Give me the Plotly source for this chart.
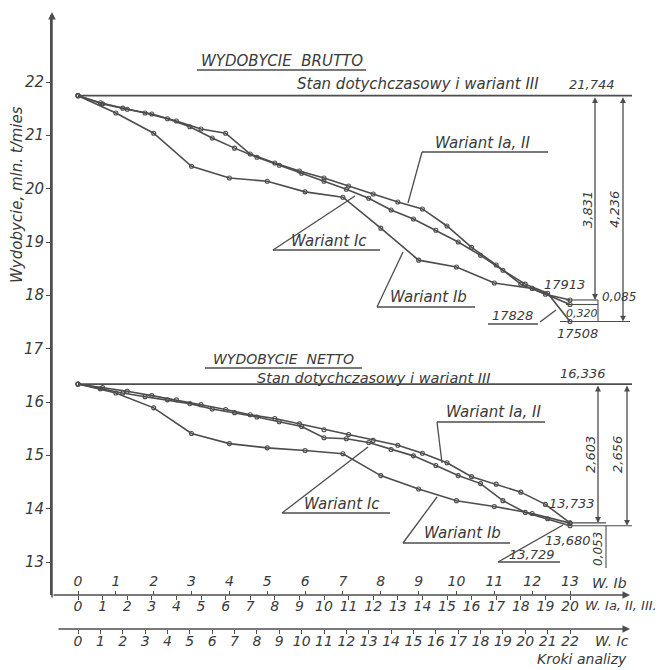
import plotly.graph_objects as go

# ---------------- data ----------------
steps_Ia = list(range(21))   # W. Ia, II, III
steps_Ib = list(range(14))   # W. Ib
steps_Ic = list(range(23))   # W. Ic

brutto_Ia = [21.744, 21.59, 21.49, 21.40, 21.27, 21.12, 21.04, 20.65, 20.48, 20.33, 20.20,
             20.05, 19.90, 19.75, 19.62, 19.30, 18.90, 18.57, 18.21, 18.02, 17.913]
brutto_Ib = [21.744, 21.42, 21.04, 20.42, 20.20, 20.14, 19.94, 19.84, 19.26, 18.66, 18.53,
             18.23, 18.13, 17.828]
brutto_Ic = [21.744, 21.61, 21.51, 21.42, 21.31, 21.16, 20.95, 20.76, 20.59, 20.44, 20.29,
             20.14, 19.99, 19.82, 19.60, 19.43, 19.22, 19.00, 18.75, 18.47, 18.21, 18.04, 17.508]

netto_Ia = [16.336, 16.27, 16.20, 16.12, 16.04, 15.95, 15.86, 15.76, 15.69, 15.59, 15.48,
            15.39, 15.28, 15.19, 15.04, 14.86, 14.60, 14.46, 14.31, 14.08, 13.733]
netto_Ib = [16.336, 16.17, 15.89, 15.41, 15.22, 15.14, 15.09, 15.03, 14.62, 14.37, 14.15,
            14.04, 13.91, 13.729]
netto_Ic = [16.336, 16.25, 16.17, 16.10, 16.04, 15.97, 15.87, 15.80, 15.72, 15.63, 15.54,
            15.33, 15.31, 15.24, 15.11, 14.99, 14.81, 14.62, 14.47, 14.15, 13.93, 13.81, 13.680]

stan_brutto = 21.744
stan_netto = 16.336
y_ticks = list(range(13, 23))

# ---------------- geometry / style ----------------
OFF = 8                      # page body margin in the browser
W, H = 666 - OFF, 670 - OFF
FONT = "DejaVu Sans"
LC = "#4d4d4d"
TC = "#3a3a3a"

def PX(x):
    return (x - OFF) / W

def PY(y):
    return 1 - (y - OFF) / H

DOM_L, DOM_R, DOM_T, DOM_B = 52, 636, 15, 595
STEP0_PX, STEPN_PX = 78, 570
Y22_PX, YUNIT = 82, 480 / 9.0

def xrange_for(nlast):
    u = (STEPN_PX - STEP0_PX) / nlast
    return [(DOM_L - STEP0_PX) / u, (DOM_R - STEP0_PX) / u]

yr = [22 - (DOM_B - Y22_PX) / YUNIT, 22 + (Y22_PX - DOM_T) / YUNIT]
ia_unit = (STEPN_PX - STEP0_PX) / steps_Ia[-1]
stan_x_end = (632 - STEP0_PX) / ia_unit

fig = go.Figure()

def curve(xs, ys, xa):
    fig.add_trace(go.Scatter(
        x=xs, y=ys, xaxis=xa, yaxis="y", mode="lines+markers",
        line=dict(color=LC, width=1.6),
        marker=dict(symbol="circle-open", size=4, color=LC, line=dict(width=1.1)),
        showlegend=False, hoverinfo="skip"))

curve(steps_Ia, brutto_Ia, "x")
curve(steps_Ib, brutto_Ib, "x2")
curve(steps_Ic, brutto_Ic, "x3")
curve(steps_Ia, netto_Ia, "x")
curve(steps_Ib, netto_Ib, "x2")
curve(steps_Ic, netto_Ic, "x3")

for v in (stan_brutto, stan_netto):
    fig.add_trace(go.Scatter(x=[0, stan_x_end], y=[v, v], xaxis="x", yaxis="y", mode="lines",
                             line=dict(color=LC, width=1.6), showlegend=False, hoverinfo="skip"))

tickfont = dict(family=FONT, size=14, color=TC, style="italic")
common_x = dict(showgrid=False, zeroline=False, showline=False, ticks="outside", ticklen=4,
                tickcolor=LC, tickwidth=1.2, tickfont=tickfont,
                domain=[PX(DOM_L), PX(DOM_R)])

fig.update_layout(
    width=W, height=H, margin=dict(l=0, r=0, t=0, b=0),
    paper_bgcolor="white", plot_bgcolor="white",
    xaxis=dict(**common_x, range=xrange_for(steps_Ia[-1]), tickvals=steps_Ia,
               ticktext=[str(s) for s in steps_Ia], anchor="y", side="bottom",
               ticklabelstandoff=-6),
    xaxis2=dict(**common_x, range=xrange_for(steps_Ib[-1]), tickvals=steps_Ib,
                ticktext=[str(s) for s in steps_Ib], overlaying="x", anchor="free",
                position=PY(DOM_B), side="top", ticklabelstandoff=-1),
    xaxis3=dict(**common_x, range=xrange_for(steps_Ic[-1]), tickvals=steps_Ic,
                ticktext=[str(s) for s in steps_Ic], overlaying="x", anchor="free",
                position=PY(629), side="bottom", ticklabelstandoff=-5),
    yaxis=dict(domain=[PY(DOM_B), PY(DOM_T)], range=yr, tickvals=y_ticks,
               showgrid=False, zeroline=False, showline=True, linecolor=LC, linewidth=1.6,
               ticks="outside", ticklen=4, tickcolor=LC, showticklabels=False),
)

ann = []

def txt(s, x, y, size=13, angle=0, xanchor="center"):
    ann.append(dict(text=s, x=PX(x), y=PY(y), xref="paper", yref="paper", showarrow=False,
                    font=dict(family=FONT, size=size, color=TC, style="italic"),
                    textangle=angle, xanchor=xanchor, yanchor="middle"))

# y tick labels, placed on the y scale
for v in y_ticks:
    ann.append(dict(text=str(v), x=PX(46), y=v, xref="paper", yref="y", showarrow=False,
                    font=dict(family=FONT, size=15, color=TC, style="italic"),
                    xanchor="right", yanchor="middle"))

def arrow_px(x0, y0, x1, y1):
    # arrow pointing to (x1, y1)
    ann.append(dict(text="", x=PX(x1), y=PY(y1), xref="paper", yref="paper",
                    ax=x0 - x1, ay=y0 - y1, axref="pixel", ayref="pixel",
                    showarrow=True, arrowhead=2, arrowsize=1, arrowwidth=1.5, arrowcolor=LC))

def dim(xp, v_top, v_bot):
    ann.append(dict(text="", x=PX(xp), y=v_bot, xref="paper", yref="y",
                    ax=0, ay=v_top, axref="pixel", ayref="y",
                    showarrow=True, arrowhead=2, startarrowhead=2, arrowside="end+start",
                    arrowsize=0.9, startarrowsize=0.9, arrowwidth=1.3, arrowcolor=LC))

shapes = []

def seg(x0, y0, x1, y1, w=1.3):
    shapes.append(dict(type="line", xref="paper", yref="paper",
                       x0=PX(x0), y0=PY(y0), x1=PX(x1), y1=PY(y1),
                       line=dict(color=LC, width=w)))

def vy(v):
    return Y22_PX + (22 - v) * YUNIT

# axis lines with arrows
arrow_px(52, 599, 52, 12)
arrow_px(52, 595, 630, 595)
arrow_px(57, 629, 630, 629)

# y-axis title
txt("Wydobycie, mln. t/mies", 17, 195, size=15, angle=-90)

# x-axis scale names
txt("W. Ib", 609, 583, size=14)
txt("W. Ia, II, III.", 583, 605, size=13, xanchor="left")
txt("W. Ic", 612, 641, size=14)
txt("Kroki analizy", 582, 659, size=14)

# ---- brutto ----
txt("WYDOBYCIE  BRUTTO", 282, 61, size=15)
seg(197, 70, 366, 70)
txt("Stan dotychczasowy i wariant III", 418, 84, size=15)
txt("21,744", 592, 84, size=13)
txt("Wariant Ia, II", 482, 143, size=15)
seg(422, 152, 548, 152)
seg(422, 152, 408, 203)
txt("Wariant Ic", 329, 241, size=15)
seg(273, 250, 380, 250)
seg(273, 250, 355, 196)
txt("Wariant Ib", 428, 297, size=15)
seg(377, 307, 475, 307)
seg(377, 307, 403, 252)

dim(595, brutto_Ia[0], brutto_Ia[-1])
dim(623, brutto_Ic[0], brutto_Ic[-1])
txt("3,831", 587, 210, size=13, angle=-90)
txt("4,236", 614, 210, size=13, angle=-90)
seg(566, vy(brutto_Ia[-1]), 598, vy(brutto_Ia[-1]), 1.1)
seg(566, vy(brutto_Ib[-1]), 598, vy(brutto_Ib[-1]), 1.1)
seg(560, vy(brutto_Ic[-1]), 630, vy(brutto_Ic[-1]), 1.1)
seg(598, vy(brutto_Ia[-1]), 598, vy(brutto_Ic[-1]), 1.1)
txt("17913", 564, 284, size=13)
txt("0,085", 619, 297, size=12)
txt("0,320", 582, 313, size=11)
txt("17828", 512, 315, size=13)
seg(488, 324, 538, 324)
seg(540, 322, 556, 310)
txt("17508", 577, 333, size=13)

# ---- netto ----
txt("WYDOBYCIE  NETTO", 283, 359, size=14)
seg(205, 368, 362, 368)
txt("Stan dotychczasowy i wariant III", 374, 378, size=14.5)
txt("16,336", 583, 374, size=13)
txt("Wariant Ia, II", 493, 412, size=15)
seg(437, 422, 545, 422)
seg(437, 422, 442, 463)
txt("Wariant Ic", 342, 504, size=15)
seg(282, 513, 390, 513)
seg(282, 513, 368, 447)
txt("Wariant Ib", 462, 533, size=15)
seg(403, 543, 510, 543)
seg(403, 543, 437, 497)

dim(598, netto_Ia[0], netto_Ia[-1])
dim(627, netto_Ic[0], netto_Ic[-1])
txt("2,603", 590, 455, size=13, angle=-90)
txt("2,656", 617, 455, size=13, angle=-90)
seg(570, vy(netto_Ia[-1]), 606, vy(netto_Ia[-1]), 1.1)
seg(570, vy(netto_Ic[-1]), 632, vy(netto_Ic[-1]), 1.1)
seg(606, vy(netto_Ic[-1]), 606, 568, 1.1)
txt("13,733", 572, 503, size=13)
txt("13,680", 568, 540, size=13)
txt("0,053", 598, 549, size=12, angle=-90)
txt("13,729", 532, 554, size=13)
seg(498, 562, 560, 562)
seg(498, 562, 563, 525)

fig.update_layout(annotations=ann, shapes=shapes)
fig.write_html("out.html")
